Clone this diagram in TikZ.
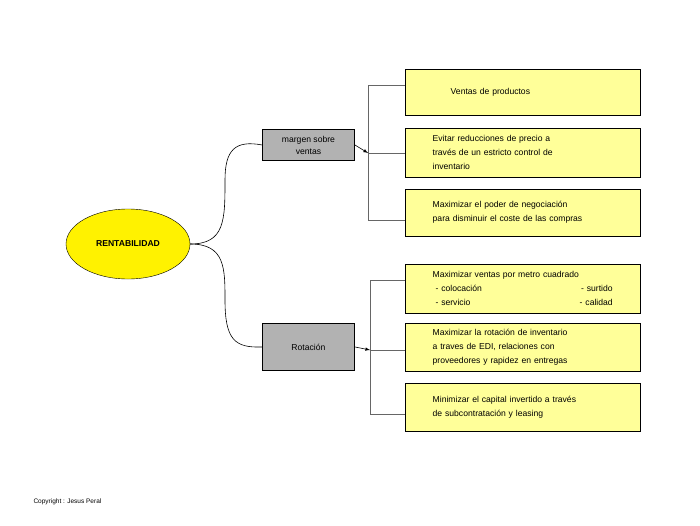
\documentclass[tikz,border=0pt]{standalone}
\usepackage{fontspec}
\setmainfont{Liberation Sans}
\usetikzlibrary{shapes.geometric}
\definecolor{ly}{HTML}{FFFF99}
\begin{document}
\begin{tikzpicture}[x=1pt,y=-1pt,
  ybox/.style={draw,fill=ly,minimum width=235pt,inner sep=0pt,anchor=north west,font=\fontsize{8.6}{14}\selectfont,align=left,text width=180pt},
  gbox/.style={draw,fill=gray!60,line width=0.9pt,minimum width=92pt,anchor=north west,font=\fontsize{8.6}{12}\selectfont,align=center},
  conn/.style={gray!80!black,line width=0.7pt},
  curv/.style={black,line width=0.6pt}]
\useasboundingbox (0,0) rectangle (700,525);
\node[ellipse,draw,fill=yellow,minimum width=124pt,minimum height=70pt,font=\fontsize{8.6}{10}\selectfont\bfseries] (r) at (128,244) {RENTABILIDAD};
\node[gbox,minimum height=31pt] (m) at (262,129) {margen sobre\\ventas};
\node[gbox,minimum height=47pt] (rot) at (262,323) {Rotación};
\node[ybox,minimum height=46pt] (b1) at (405,69) {\hspace*{18pt}Ventas de productos};
\node[ybox,minimum height=49pt] (b2) at (405,128) {Evitar reducciones de precio a\\través de un estricto control de\\inventario};
\node[ybox,minimum height=47pt] (b3) at (405,189) {Maximizar el poder de negociación\\para disminuir el coste de las compras};
\node[ybox,minimum height=49pt] (b4) at (405,264) {Maximizar ventas por metro cuadrado\\\ - colocación\hfill - surtido\\\ - servicio\hfill - calidad};
\node[ybox,minimum height=48pt] (b5) at (405,323) {Maximizar la rotación de inventario\\a traves de EDI, relaciones con\\proveedores y rapidez en entregas};
\node[ybox,minimum height=48pt] (b6) at (405,383) {Minimizar el capital invertido a través\\de subcontratación y leasing\\[10pt]};
\coordinate (u) at (368,153);
\coordinate (l) at (370,350);
\draw[conn] (b1.west |- 0,85) -- (368,85) -- (368,220) -- (b3.west |- 0,220);
\draw[conn] (u) -- (b2.west |- u);
\draw[conn] (b4.west |- 0,280) -- (370,280) -- (370,414) -- (b6.west |- 0,414);
\draw[conn] (l) -- (b5.west |- l);
\draw[-latex,line width=0.6pt] (m.east) -- (u);
\draw[-latex,line width=0.6pt] (rot.east) -- (l);
\draw[curv] (r.east) .. controls (225,244) and (225,220) .. (225,180) .. controls (225,150) and (235,140) .. (m.west);
\draw[curv] (r.east) .. controls (225,244) and (225,268) .. (225,300) .. controls (225,340) and (235,348) .. (rot.west);
\node[anchor=west,font=\fontsize{6.5}{8}\selectfont] (c) at (30,502) {Copyright : Jesus Peral};
\end{tikzpicture}
\end{document}
